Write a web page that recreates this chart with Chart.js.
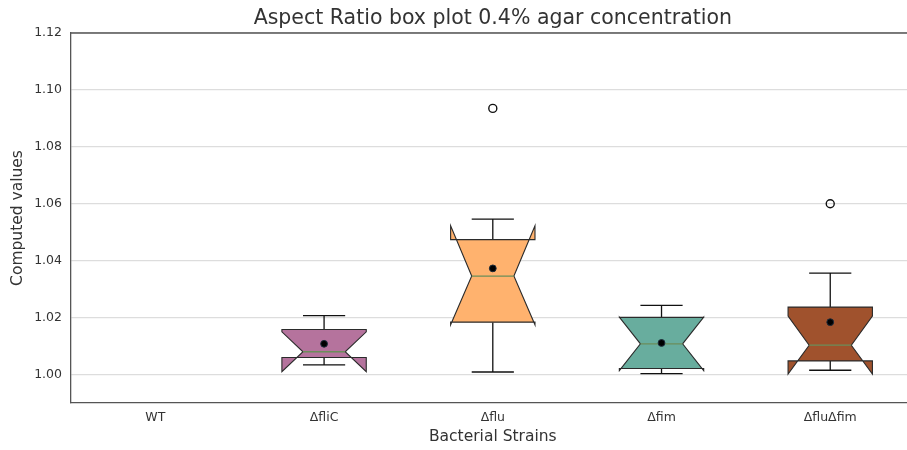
<!DOCTYPE html>
<html>
<head>
<meta charset="utf-8">
<script src="https://cdn.jsdelivr.net/npm/chart.js@4.4.1/dist/chart.umd.min.js"></script>
<style>
    html, body { margin: 0; padding: 0; background: #fff; overflow: hidden; }
    #wrap { width: 920px; height: 450px; position: relative; }
</style>
</head>
<body>
<div id="wrap"><canvas id="box-chart" width="920" height="450"></canvas></div>
<script>
// categories and values (null = no data drawn)
const strains = ['WT', 'ΔfliC', 'Δflu', 'Δfim', 'ΔfluΔfim'];
const whiskerLow = [null, 1.0034, 1.0009, 1.0003, 1.0015];
const q1 = [null, 1.0060, 1.0184, 1.0021, 1.0048];
const notchLow = [null, 1.0010, 1.0175, 1.0014, 1.0002];
const medians = [null, 1.0080, 1.0346, 1.0108, 1.0103];
const notchHigh = [null, 1.0150, 1.0523, 1.0202, 1.0205];
const q3 = [null, 1.0158, 1.0474, 1.0201, 1.0237];
const whiskerHigh = [null, 1.0207, 1.0546, 1.0243, 1.0356];
const means = [null, 1.0108, 1.0373, 1.0111, 1.0184];
const outliers = [null, null, 1.0935, null, 1.0600];
const yTicks = [1.00, 1.02, 1.04, 1.06, 1.08, 1.10, 1.12];

const titleText = 'Aspect Ratio box plot 0.4% agar concentration';
const boxColors = [null, '#b5739d', '#ffb26e', '#68ad9e', '#a0522d'];
const medianColor = '#6b8e5a';
const font = 'DejaVu Sans';

// notched boxes and whiskers, placed with the chart's own scales
const notchedBoxes = {
    id: 'notchedBoxes',
    beforeDatasetsDraw(chart) {
        const { ctx, scales: { x, y } } = chart;
        const catWidth = x.width / strains.length;
        const hw = catWidth * 0.25;
        ctx.save();
        strains.forEach((s, i) => {
            if (medians[i] == null) return;
            const px = x.getPixelForValue(i);
            const yq1 = y.getPixelForValue(q1[i]);
            const yq3 = y.getPixelForValue(q3[i]);
            const ymed = y.getPixelForValue(medians[i]);
            const ynlo = y.getPixelForValue(notchLow[i]);
            const ynhi = y.getPixelForValue(notchHigh[i]);
            const ywlo = y.getPixelForValue(whiskerLow[i]);
            const ywhi = y.getPixelForValue(whiskerHigh[i]);

            // whiskers
            ctx.strokeStyle = '#111';
            ctx.lineWidth = 1.3;
            ctx.beginPath();
            ctx.moveTo(px, yq3); ctx.lineTo(px, ywhi);
            ctx.moveTo(px - hw / 2, ywhi); ctx.lineTo(px + hw / 2, ywhi);
            ctx.moveTo(px, yq1); ctx.lineTo(px, ywlo);
            ctx.moveTo(px - hw / 2, ywlo); ctx.lineTo(px + hw / 2, ywlo);
            ctx.stroke();

            // box
            ctx.beginPath();
            ctx.moveTo(px - hw, yq1);
            ctx.lineTo(px - hw, ynlo);
            ctx.lineTo(px - hw / 2, ymed);
            ctx.lineTo(px - hw, ynhi);
            ctx.lineTo(px - hw, yq3);
            ctx.lineTo(px + hw, yq3);
            ctx.lineTo(px + hw, ynhi);
            ctx.lineTo(px + hw / 2, ymed);
            ctx.lineTo(px + hw, ynlo);
            ctx.lineTo(px + hw, yq1);
            ctx.closePath();
            ctx.fillStyle = boxColors[i];
            ctx.fill();
            ctx.strokeStyle = '#2b2b2b';
            ctx.lineWidth = 1.1;
            ctx.lineJoin = 'miter';
            ctx.stroke();

            // median
            ctx.strokeStyle = medianColor;
            ctx.lineWidth = 1.3;
            ctx.beginPath();
            ctx.moveTo(px - hw / 2, ymed);
            ctx.lineTo(px + hw / 2, ymed);
            ctx.stroke();
        });
        ctx.restore();
    },
    afterDraw(chart) {
        const { ctx, chartArea } = chart;
        ctx.save();
        // top frame line
        ctx.strokeStyle = '#555';
        ctx.lineWidth = 1.3;
        ctx.beginPath();
        ctx.moveTo(chartArea.left, chartArea.top);
        ctx.lineTo(chartArea.right, chartArea.top);
        ctx.stroke();
        // title centred over the plot area, like the original
        ctx.fillStyle = '#333';
        ctx.font = '20.5px "' + font + '"';
        ctx.textAlign = 'center';
        ctx.textBaseline = 'alphabetic';
        ctx.fillText(titleText, (chartArea.left + chartArea.right) / 2, 24);
        ctx.restore();
    }
};

new Chart(document.getElementById('box-chart'), {
    type: 'line',
    data: {
        labels: strains,
        datasets: [
            {
                label: 'Mean',
                data: means,
                showLine: false,
                pointRadius: 3.4,
                pointBackgroundColor: '#000',
                pointBorderColor: '#1d2b3a',
                pointBorderWidth: 1
            },
            {
                label: 'Outliers',
                data: outliers,
                showLine: false,
                pointRadius: 4,
                pointBackgroundColor: 'rgba(255,255,255,0)',
                pointBorderColor: '#111',
                pointBorderWidth: 1.4
            }
        ]
    },
    options: {
        responsive: false,
        animation: false,
        layout: { padding: { left: 0, right: 4, top: 33, bottom: 0 } },
        plugins: {
            legend: { display: false },
            tooltip: { enabled: false },
            title: { display: false }
        },
        scales: {
            x: {
                type: 'category',
                offset: true,
                grid: { display: false, drawTicks: false },
                border: { display: true, color: '#555', width: 1.3 },
                ticks: {
                    color: '#333',
                    font: { family: font, size: 12.5 },
                    padding: 7,
                    maxRotation: 0,
                    minRotation: 0,
                    autoSkip: false
                },
                title: {
                    display: true,
                    text: 'Bacterial Strains',
                    color: '#333',
                    font: { family: font, size: 15.5 },
                    padding: { top: 0, bottom: 3.7 }
                },
                afterFit(scale) { scale.height = 47; }
            },
            y: {
                type: 'linear',
                min: 0.99,
                max: 1.12,
                afterBuildTicks(scale) { scale.ticks = yTicks.map(v => ({ value: v })); },
                grid: { color: '#dddddd', lineWidth: 1.2, drawTicks: false },
                border: { display: true, color: '#555', width: 1.3 },
                ticks: {
                    color: '#333',
                    font: { family: font, size: 12.5 },
                    padding: 9,
                    callback: v => v.toFixed(2)
                },
                title: {
                    display: true,
                    text: 'Computed values',
                    color: '#333',
                    font: { family: font, size: 15.5 },
                    padding: { top: 8.2, bottom: 0 }
                },
                afterFit(scale) { scale.width = 71; }
            }
        }
    },
    plugins: [notchedBoxes]
});
</script>
</body>
</html>
